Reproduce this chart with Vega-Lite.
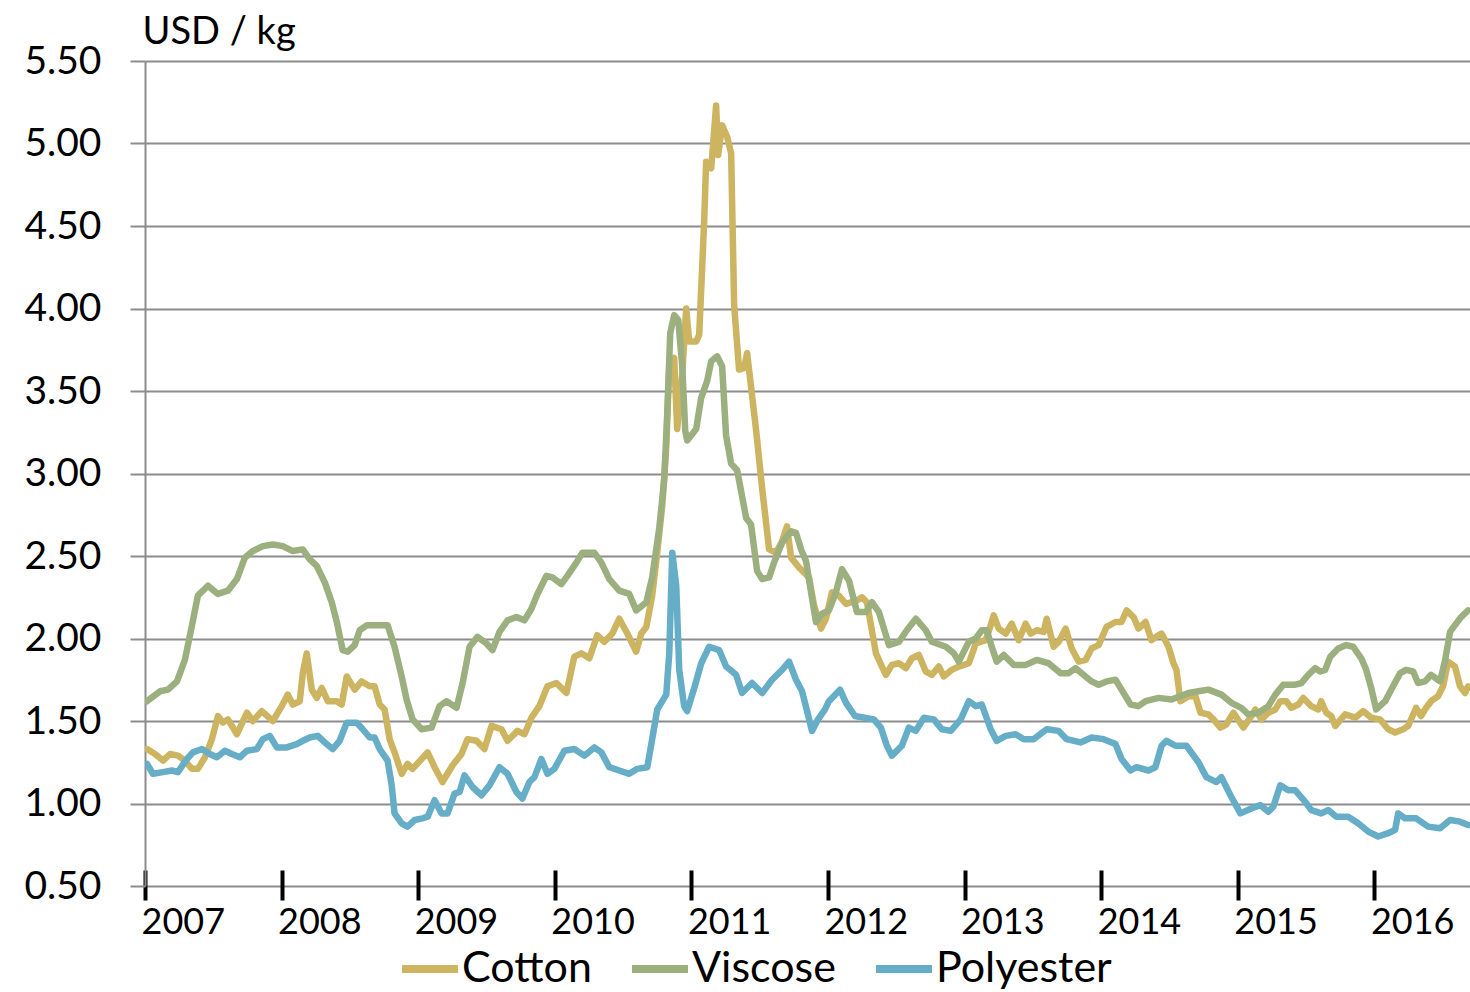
{
"$schema": "https://vega.github.io/schema/vega-lite/v6.json",
"width": 1325, "height": 825,
"autosize": "none",
"padding": {"left": 145, "top": 61, "right": 0, "bottom": 106},
"background": "white",
"config": {"font": "Lato", "view": {"stroke": null}},
"datasets": {"prices": [
{"fibre":"Cotton","year":2007.015,"price":1.33},{"fibre":"Cotton","year":2007.073,"price":1.30},{"fibre":"Cotton","year":2007.132,"price":1.26},{"fibre":"Cotton","year":2007.183,"price":1.30},{"fibre":"Cotton","year":2007.241,"price":1.29},{"fibre":"Cotton","year":2007.292,"price":1.26},{"fibre":"Cotton","year":2007.344,"price":1.21},{"fibre":"Cotton","year":2007.387,"price":1.21},{"fibre":"Cotton","year":2007.439,"price":1.28},{"fibre":"Cotton","year":2007.490,"price":1.39},{"fibre":"Cotton","year":2007.534,"price":1.53},{"fibre":"Cotton","year":2007.570,"price":1.49},{"fibre":"Cotton","year":2007.607,"price":1.51},{"fibre":"Cotton","year":2007.673,"price":1.42},{"fibre":"Cotton","year":2007.746,"price":1.55},{"fibre":"Cotton","year":2007.789,"price":1.50},{"fibre":"Cotton","year":2007.855,"price":1.56},{"fibre":"Cotton","year":2007.936,"price":1.50},{"fibre":"Cotton","year":2008.001,"price":1.59},{"fibre":"Cotton","year":2008.045,"price":1.66},{"fibre":"Cotton","year":2008.082,"price":1.60},{"fibre":"Cotton","year":2008.133,"price":1.62},{"fibre":"Cotton","year":2008.155,"price":1.79},{"fibre":"Cotton","year":2008.184,"price":1.91},{"fibre":"Cotton","year":2008.221,"price":1.69},{"fibre":"Cotton","year":2008.257,"price":1.64},{"fibre":"Cotton","year":2008.294,"price":1.70},{"fibre":"Cotton","year":2008.338,"price":1.62},{"fibre":"Cotton","year":2008.404,"price":1.62},{"fibre":"Cotton","year":2008.440,"price":1.60},{"fibre":"Cotton","year":2008.477,"price":1.77},{"fibre":"Cotton","year":2008.535,"price":1.69},{"fibre":"Cotton","year":2008.586,"price":1.74},{"fibre":"Cotton","year":2008.645,"price":1.71},{"fibre":"Cotton","year":2008.681,"price":1.71},{"fibre":"Cotton","year":2008.718,"price":1.60},{"fibre":"Cotton","year":2008.754,"price":1.57},{"fibre":"Cotton","year":2008.791,"price":1.39},{"fibre":"Cotton","year":2008.827,"price":1.31},{"fibre":"Cotton","year":2008.879,"price":1.18},{"fibre":"Cotton","year":2008.922,"price":1.24},{"fibre":"Cotton","year":2008.959,"price":1.21},{"fibre":"Cotton","year":2009.025,"price":1.27},{"fibre":"Cotton","year":2009.069,"price":1.31},{"fibre":"Cotton","year":2009.120,"price":1.22},{"fibre":"Cotton","year":2009.178,"price":1.13},{"fibre":"Cotton","year":2009.251,"price":1.23},{"fibre":"Cotton","year":2009.317,"price":1.30},{"fibre":"Cotton","year":2009.361,"price":1.39},{"fibre":"Cotton","year":2009.427,"price":1.38},{"fibre":"Cotton","year":2009.485,"price":1.33},{"fibre":"Cotton","year":2009.537,"price":1.47},{"fibre":"Cotton","year":2009.610,"price":1.45},{"fibre":"Cotton","year":2009.654,"price":1.38},{"fibre":"Cotton","year":2009.727,"price":1.44},{"fibre":"Cotton","year":2009.778,"price":1.42},{"fibre":"Cotton","year":2009.829,"price":1.52},{"fibre":"Cotton","year":2009.887,"price":1.59},{"fibre":"Cotton","year":2009.946,"price":1.71},{"fibre":"Cotton","year":2010.012,"price":1.73},{"fibre":"Cotton","year":2010.085,"price":1.67},{"fibre":"Cotton","year":2010.143,"price":1.89},{"fibre":"Cotton","year":2010.194,"price":1.91},{"fibre":"Cotton","year":2010.253,"price":1.88},{"fibre":"Cotton","year":2010.311,"price":2.02},{"fibre":"Cotton","year":2010.363,"price":1.98},{"fibre":"Cotton","year":2010.421,"price":2.03},{"fibre":"Cotton","year":2010.472,"price":2.12},{"fibre":"Cotton","year":2010.531,"price":2.03},{"fibre":"Cotton","year":2010.596,"price":1.92},{"fibre":"Cotton","year":2010.633,"price":2.03},{"fibre":"Cotton","year":2010.670,"price":2.07},{"fibre":"Cotton","year":2010.713,"price":2.26},{"fibre":"Cotton","year":2010.750,"price":2.52},{"fibre":"Cotton","year":2010.787,"price":2.81},{"fibre":"Cotton","year":2010.816,"price":3.16},{"fibre":"Cotton","year":2010.838,"price":3.65},{"fibre":"Cotton","year":2010.874,"price":3.70},{"fibre":"Cotton","year":2010.896,"price":3.27},{"fibre":"Cotton","year":2010.933,"price":3.60},{"fibre":"Cotton","year":2010.962,"price":4.00},{"fibre":"Cotton","year":2010.984,"price":3.80},{"fibre":"Cotton","year":2011.035,"price":3.80},{"fibre":"Cotton","year":2011.057,"price":3.84},{"fibre":"Cotton","year":2011.079,"price":4.25},{"fibre":"Cotton","year":2011.094,"price":4.54},{"fibre":"Cotton","year":2011.108,"price":4.89},{"fibre":"Cotton","year":2011.145,"price":4.85},{"fibre":"Cotton","year":2011.181,"price":5.23},{"fibre":"Cotton","year":2011.196,"price":4.93},{"fibre":"Cotton","year":2011.225,"price":5.11},{"fibre":"Cotton","year":2011.262,"price":5.04},{"fibre":"Cotton","year":2011.291,"price":4.94},{"fibre":"Cotton","year":2011.313,"price":4.02},{"fibre":"Cotton","year":2011.349,"price":3.63},{"fibre":"Cotton","year":2011.386,"price":3.64},{"fibre":"Cotton","year":2011.408,"price":3.73},{"fibre":"Cotton","year":2011.474,"price":3.26},{"fibre":"Cotton","year":2011.518,"price":2.91},{"fibre":"Cotton","year":2011.569,"price":2.54},{"fibre":"Cotton","year":2011.620,"price":2.52},{"fibre":"Cotton","year":2011.664,"price":2.59},{"fibre":"Cotton","year":2011.700,"price":2.68},{"fibre":"Cotton","year":2011.730,"price":2.49},{"fibre":"Cotton","year":2011.788,"price":2.43},{"fibre":"Cotton","year":2011.861,"price":2.37},{"fibre":"Cotton","year":2011.898,"price":2.20},{"fibre":"Cotton","year":2011.949,"price":2.06},{"fibre":"Cotton","year":2011.985,"price":2.12},{"fibre":"Cotton","year":2012.029,"price":2.28},{"fibre":"Cotton","year":2012.080,"price":2.26},{"fibre":"Cotton","year":2012.132,"price":2.21},{"fibre":"Cotton","year":2012.212,"price":2.23},{"fibre":"Cotton","year":2012.249,"price":2.25},{"fibre":"Cotton","year":2012.285,"price":2.22},{"fibre":"Cotton","year":2012.351,"price":1.91},{"fibre":"Cotton","year":2012.395,"price":1.83},{"fibre":"Cotton","year":2012.424,"price":1.78},{"fibre":"Cotton","year":2012.468,"price":1.84},{"fibre":"Cotton","year":2012.519,"price":1.85},{"fibre":"Cotton","year":2012.570,"price":1.82},{"fibre":"Cotton","year":2012.614,"price":1.88},{"fibre":"Cotton","year":2012.665,"price":1.90},{"fibre":"Cotton","year":2012.716,"price":1.80},{"fibre":"Cotton","year":2012.760,"price":1.78},{"fibre":"Cotton","year":2012.811,"price":1.83},{"fibre":"Cotton","year":2012.848,"price":1.77},{"fibre":"Cotton","year":2012.906,"price":1.81},{"fibre":"Cotton","year":2012.958,"price":1.83},{"fibre":"Cotton","year":2013.031,"price":1.85},{"fibre":"Cotton","year":2013.082,"price":1.97},{"fibre":"Cotton","year":2013.155,"price":1.99},{"fibre":"Cotton","year":2013.191,"price":2.08},{"fibre":"Cotton","year":2013.213,"price":2.14},{"fibre":"Cotton","year":2013.250,"price":2.06},{"fibre":"Cotton","year":2013.301,"price":2.03},{"fibre":"Cotton","year":2013.345,"price":2.09},{"fibre":"Cotton","year":2013.396,"price":1.99},{"fibre":"Cotton","year":2013.447,"price":2.09},{"fibre":"Cotton","year":2013.484,"price":2.03},{"fibre":"Cotton","year":2013.528,"price":2.05},{"fibre":"Cotton","year":2013.579,"price":2.04},{"fibre":"Cotton","year":2013.601,"price":2.12},{"fibre":"Cotton","year":2013.652,"price":1.95},{"fibre":"Cotton","year":2013.689,"price":1.98},{"fibre":"Cotton","year":2013.740,"price":2.06},{"fibre":"Cotton","year":2013.784,"price":1.94},{"fibre":"Cotton","year":2013.835,"price":1.86},{"fibre":"Cotton","year":2013.886,"price":1.87},{"fibre":"Cotton","year":2013.930,"price":1.94},{"fibre":"Cotton","year":2013.981,"price":1.96},{"fibre":"Cotton","year":2014.039,"price":2.07},{"fibre":"Cotton","year":2014.105,"price":2.10},{"fibre":"Cotton","year":2014.149,"price":2.10},{"fibre":"Cotton","year":2014.186,"price":2.17},{"fibre":"Cotton","year":2014.237,"price":2.13},{"fibre":"Cotton","year":2014.273,"price":2.06},{"fibre":"Cotton","year":2014.325,"price":2.10},{"fibre":"Cotton","year":2014.368,"price":1.99},{"fibre":"Cotton","year":2014.420,"price":2.02},{"fibre":"Cotton","year":2014.442,"price":2.03},{"fibre":"Cotton","year":2014.493,"price":1.95},{"fibre":"Cotton","year":2014.529,"price":1.85},{"fibre":"Cotton","year":2014.551,"price":1.81},{"fibre":"Cotton","year":2014.580,"price":1.62},{"fibre":"Cotton","year":2014.639,"price":1.65},{"fibre":"Cotton","year":2014.690,"price":1.65},{"fibre":"Cotton","year":2014.727,"price":1.55},{"fibre":"Cotton","year":2014.785,"price":1.54},{"fibre":"Cotton","year":2014.822,"price":1.51},{"fibre":"Cotton","year":2014.873,"price":1.46},{"fibre":"Cotton","year":2014.917,"price":1.48},{"fibre":"Cotton","year":2014.968,"price":1.55},{"fibre":"Cotton","year":2015.041,"price":1.46},{"fibre":"Cotton","year":2015.092,"price":1.52},{"fibre":"Cotton","year":2015.129,"price":1.57},{"fibre":"Cotton","year":2015.173,"price":1.51},{"fibre":"Cotton","year":2015.224,"price":1.55},{"fibre":"Cotton","year":2015.275,"price":1.57},{"fibre":"Cotton","year":2015.311,"price":1.62},{"fibre":"Cotton","year":2015.355,"price":1.62},{"fibre":"Cotton","year":2015.392,"price":1.58},{"fibre":"Cotton","year":2015.443,"price":1.60},{"fibre":"Cotton","year":2015.479,"price":1.64},{"fibre":"Cotton","year":2015.538,"price":1.59},{"fibre":"Cotton","year":2015.589,"price":1.57},{"fibre":"Cotton","year":2015.611,"price":1.62},{"fibre":"Cotton","year":2015.648,"price":1.55},{"fibre":"Cotton","year":2015.684,"price":1.53},{"fibre":"Cotton","year":2015.714,"price":1.47},{"fibre":"Cotton","year":2015.786,"price":1.54},{"fibre":"Cotton","year":2015.860,"price":1.52},{"fibre":"Cotton","year":2015.918,"price":1.56},{"fibre":"Cotton","year":2015.977,"price":1.52},{"fibre":"Cotton","year":2016.042,"price":1.51},{"fibre":"Cotton","year":2016.101,"price":1.45},{"fibre":"Cotton","year":2016.152,"price":1.43},{"fibre":"Cotton","year":2016.210,"price":1.45},{"fibre":"Cotton","year":2016.247,"price":1.47},{"fibre":"Cotton","year":2016.306,"price":1.58},{"fibre":"Cotton","year":2016.342,"price":1.53},{"fibre":"Cotton","year":2016.379,"price":1.58},{"fibre":"Cotton","year":2016.415,"price":1.62},{"fibre":"Cotton","year":2016.466,"price":1.65},{"fibre":"Cotton","year":2016.503,"price":1.71},{"fibre":"Cotton","year":2016.539,"price":1.86},{"fibre":"Cotton","year":2016.590,"price":1.83},{"fibre":"Cotton","year":2016.627,"price":1.71},{"fibre":"Cotton","year":2016.664,"price":1.67},{"fibre":"Cotton","year":2016.686,"price":1.71},
{"fibre":"Viscose","year":2007.015,"price":1.62},{"fibre":"Viscose","year":2007.110,"price":1.68},{"fibre":"Viscose","year":2007.168,"price":1.69},{"fibre":"Viscose","year":2007.234,"price":1.74},{"fibre":"Viscose","year":2007.292,"price":1.87},{"fibre":"Viscose","year":2007.344,"price":2.08},{"fibre":"Viscose","year":2007.387,"price":2.26},{"fibre":"Viscose","year":2007.461,"price":2.32},{"fibre":"Viscose","year":2007.534,"price":2.27},{"fibre":"Viscose","year":2007.607,"price":2.29},{"fibre":"Viscose","year":2007.673,"price":2.36},{"fibre":"Viscose","year":2007.731,"price":2.49},{"fibre":"Viscose","year":2007.789,"price":2.53},{"fibre":"Viscose","year":2007.863,"price":2.56},{"fibre":"Viscose","year":2007.936,"price":2.57},{"fibre":"Viscose","year":2008.009,"price":2.56},{"fibre":"Viscose","year":2008.082,"price":2.53},{"fibre":"Viscose","year":2008.155,"price":2.54},{"fibre":"Viscose","year":2008.206,"price":2.48},{"fibre":"Viscose","year":2008.257,"price":2.44},{"fibre":"Viscose","year":2008.316,"price":2.34},{"fibre":"Viscose","year":2008.367,"price":2.22},{"fibre":"Viscose","year":2008.404,"price":2.10},{"fibre":"Viscose","year":2008.447,"price":1.93},{"fibre":"Viscose","year":2008.484,"price":1.92},{"fibre":"Viscose","year":2008.535,"price":1.96},{"fibre":"Viscose","year":2008.572,"price":2.05},{"fibre":"Viscose","year":2008.623,"price":2.08},{"fibre":"Viscose","year":2008.696,"price":2.08},{"fibre":"Viscose","year":2008.776,"price":2.08},{"fibre":"Viscose","year":2008.827,"price":1.95},{"fibre":"Viscose","year":2008.879,"price":1.77},{"fibre":"Viscose","year":2008.915,"price":1.63},{"fibre":"Viscose","year":2008.959,"price":1.51},{"fibre":"Viscose","year":2009.025,"price":1.45},{"fibre":"Viscose","year":2009.098,"price":1.46},{"fibre":"Viscose","year":2009.156,"price":1.59},{"fibre":"Viscose","year":2009.208,"price":1.62},{"fibre":"Viscose","year":2009.281,"price":1.58},{"fibre":"Viscose","year":2009.325,"price":1.73},{"fibre":"Viscose","year":2009.376,"price":1.95},{"fibre":"Viscose","year":2009.434,"price":2.01},{"fibre":"Viscose","year":2009.500,"price":1.97},{"fibre":"Viscose","year":2009.544,"price":1.93},{"fibre":"Viscose","year":2009.595,"price":2.04},{"fibre":"Viscose","year":2009.654,"price":2.11},{"fibre":"Viscose","year":2009.719,"price":2.13},{"fibre":"Viscose","year":2009.778,"price":2.11},{"fibre":"Viscose","year":2009.829,"price":2.18},{"fibre":"Viscose","year":2009.873,"price":2.27},{"fibre":"Viscose","year":2009.939,"price":2.38},{"fibre":"Viscose","year":2009.982,"price":2.37},{"fibre":"Viscose","year":2010.048,"price":2.33},{"fibre":"Viscose","year":2010.092,"price":2.38},{"fibre":"Viscose","year":2010.158,"price":2.46},{"fibre":"Viscose","year":2010.202,"price":2.52},{"fibre":"Viscose","year":2010.289,"price":2.52},{"fibre":"Viscose","year":2010.341,"price":2.46},{"fibre":"Viscose","year":2010.399,"price":2.36},{"fibre":"Viscose","year":2010.472,"price":2.29},{"fibre":"Viscose","year":2010.545,"price":2.27},{"fibre":"Viscose","year":2010.596,"price":2.17},{"fibre":"Viscose","year":2010.670,"price":2.22},{"fibre":"Viscose","year":2010.713,"price":2.37},{"fibre":"Viscose","year":2010.765,"price":2.67},{"fibre":"Viscose","year":2010.801,"price":2.96},{"fibre":"Viscose","year":2010.823,"price":3.36},{"fibre":"Viscose","year":2010.845,"price":3.85},{"fibre":"Viscose","year":2010.874,"price":3.96},{"fibre":"Viscose","year":2010.904,"price":3.93},{"fibre":"Viscose","year":2010.933,"price":3.65},{"fibre":"Viscose","year":2010.955,"price":3.26},{"fibre":"Viscose","year":2010.969,"price":3.20},{"fibre":"Viscose","year":2011.035,"price":3.27},{"fibre":"Viscose","year":2011.072,"price":3.46},{"fibre":"Viscose","year":2011.115,"price":3.56},{"fibre":"Viscose","year":2011.145,"price":3.68},{"fibre":"Viscose","year":2011.189,"price":3.71},{"fibre":"Viscose","year":2011.225,"price":3.65},{"fibre":"Viscose","year":2011.254,"price":3.23},{"fibre":"Viscose","year":2011.291,"price":3.06},{"fibre":"Viscose","year":2011.335,"price":3.02},{"fibre":"Viscose","year":2011.401,"price":2.73},{"fibre":"Viscose","year":2011.437,"price":2.69},{"fibre":"Viscose","year":2011.481,"price":2.41},{"fibre":"Viscose","year":2011.518,"price":2.36},{"fibre":"Viscose","year":2011.569,"price":2.37},{"fibre":"Viscose","year":2011.605,"price":2.46},{"fibre":"Viscose","year":2011.664,"price":2.58},{"fibre":"Viscose","year":2011.730,"price":2.65},{"fibre":"Viscose","year":2011.766,"price":2.64},{"fibre":"Viscose","year":2011.803,"price":2.54},{"fibre":"Viscose","year":2011.839,"price":2.47},{"fibre":"Viscose","year":2011.876,"price":2.28},{"fibre":"Viscose","year":2011.912,"price":2.10},{"fibre":"Viscose","year":2011.956,"price":2.15},{"fibre":"Viscose","year":2012.007,"price":2.17},{"fibre":"Viscose","year":2012.058,"price":2.28},{"fibre":"Viscose","year":2012.102,"price":2.42},{"fibre":"Viscose","year":2012.154,"price":2.35},{"fibre":"Viscose","year":2012.212,"price":2.16},{"fibre":"Viscose","year":2012.278,"price":2.16},{"fibre":"Viscose","year":2012.322,"price":2.22},{"fibre":"Viscose","year":2012.373,"price":2.16},{"fibre":"Viscose","year":2012.446,"price":1.96},{"fibre":"Viscose","year":2012.519,"price":1.98},{"fibre":"Viscose","year":2012.577,"price":2.05},{"fibre":"Viscose","year":2012.643,"price":2.12},{"fibre":"Viscose","year":2012.716,"price":2.05},{"fibre":"Viscose","year":2012.760,"price":1.98},{"fibre":"Viscose","year":2012.863,"price":1.95},{"fibre":"Viscose","year":2012.921,"price":1.91},{"fibre":"Viscose","year":2012.958,"price":1.86},{"fibre":"Viscose","year":2013.031,"price":1.98},{"fibre":"Viscose","year":2013.082,"price":2.00},{"fibre":"Viscose","year":2013.126,"price":2.05},{"fibre":"Viscose","year":2013.162,"price":2.05},{"fibre":"Viscose","year":2013.199,"price":1.95},{"fibre":"Viscose","year":2013.235,"price":1.86},{"fibre":"Viscose","year":2013.287,"price":1.90},{"fibre":"Viscose","year":2013.360,"price":1.84},{"fibre":"Viscose","year":2013.447,"price":1.84},{"fibre":"Viscose","year":2013.528,"price":1.87},{"fibre":"Viscose","year":2013.615,"price":1.85},{"fibre":"Viscose","year":2013.703,"price":1.79},{"fibre":"Viscose","year":2013.762,"price":1.79},{"fibre":"Viscose","year":2013.813,"price":1.82},{"fibre":"Viscose","year":2013.857,"price":1.79},{"fibre":"Viscose","year":2013.930,"price":1.74},{"fibre":"Viscose","year":2013.981,"price":1.72},{"fibre":"Viscose","year":2014.039,"price":1.74},{"fibre":"Viscose","year":2014.105,"price":1.75},{"fibre":"Viscose","year":2014.149,"price":1.69},{"fibre":"Viscose","year":2014.215,"price":1.60},{"fibre":"Viscose","year":2014.273,"price":1.59},{"fibre":"Viscose","year":2014.325,"price":1.62},{"fibre":"Viscose","year":2014.420,"price":1.64},{"fibre":"Viscose","year":2014.515,"price":1.63},{"fibre":"Viscose","year":2014.639,"price":1.67},{"fibre":"Viscose","year":2014.712,"price":1.68},{"fibre":"Viscose","year":2014.785,"price":1.69},{"fibre":"Viscose","year":2014.880,"price":1.66},{"fibre":"Viscose","year":2014.953,"price":1.61},{"fibre":"Viscose","year":2015.026,"price":1.58},{"fibre":"Viscose","year":2015.077,"price":1.54},{"fibre":"Viscose","year":2015.151,"price":1.55},{"fibre":"Viscose","year":2015.224,"price":1.59},{"fibre":"Viscose","year":2015.275,"price":1.66},{"fibre":"Viscose","year":2015.333,"price":1.72},{"fibre":"Viscose","year":2015.421,"price":1.72},{"fibre":"Viscose","year":2015.465,"price":1.73},{"fibre":"Viscose","year":2015.516,"price":1.78},{"fibre":"Viscose","year":2015.567,"price":1.82},{"fibre":"Viscose","year":2015.604,"price":1.80},{"fibre":"Viscose","year":2015.640,"price":1.81},{"fibre":"Viscose","year":2015.677,"price":1.89},{"fibre":"Viscose","year":2015.735,"price":1.94},{"fibre":"Viscose","year":2015.794,"price":1.96},{"fibre":"Viscose","year":2015.845,"price":1.95},{"fibre":"Viscose","year":2015.904,"price":1.88},{"fibre":"Viscose","year":2015.940,"price":1.81},{"fibre":"Viscose","year":2015.977,"price":1.70},{"fibre":"Viscose","year":2016.013,"price":1.57},{"fibre":"Viscose","year":2016.079,"price":1.62},{"fibre":"Viscose","year":2016.123,"price":1.69},{"fibre":"Viscose","year":2016.189,"price":1.79},{"fibre":"Viscose","year":2016.232,"price":1.81},{"fibre":"Viscose","year":2016.284,"price":1.80},{"fibre":"Viscose","year":2016.320,"price":1.73},{"fibre":"Viscose","year":2016.371,"price":1.74},{"fibre":"Viscose","year":2016.415,"price":1.78},{"fibre":"Viscose","year":2016.481,"price":1.74},{"fibre":"Viscose","year":2016.518,"price":1.87},{"fibre":"Viscose","year":2016.554,"price":2.04},{"fibre":"Viscose","year":2016.598,"price":2.09},{"fibre":"Viscose","year":2016.635,"price":2.13},{"fibre":"Viscose","year":2016.686,"price":2.17},
{"fibre":"Polyester","year":2007.015,"price":1.24},{"fibre":"Polyester","year":2007.058,"price":1.18},{"fibre":"Polyester","year":2007.132,"price":1.19},{"fibre":"Polyester","year":2007.197,"price":1.20},{"fibre":"Polyester","year":2007.241,"price":1.19},{"fibre":"Polyester","year":2007.307,"price":1.27},{"fibre":"Polyester","year":2007.351,"price":1.31},{"fibre":"Polyester","year":2007.417,"price":1.33},{"fibre":"Polyester","year":2007.475,"price":1.30},{"fibre":"Polyester","year":2007.526,"price":1.28},{"fibre":"Polyester","year":2007.585,"price":1.32},{"fibre":"Polyester","year":2007.636,"price":1.30},{"fibre":"Polyester","year":2007.694,"price":1.28},{"fibre":"Polyester","year":2007.746,"price":1.32},{"fibre":"Polyester","year":2007.819,"price":1.33},{"fibre":"Polyester","year":2007.863,"price":1.39},{"fibre":"Polyester","year":2007.914,"price":1.41},{"fibre":"Polyester","year":2007.965,"price":1.34},{"fibre":"Polyester","year":2008.038,"price":1.34},{"fibre":"Polyester","year":2008.111,"price":1.36},{"fibre":"Polyester","year":2008.155,"price":1.38},{"fibre":"Polyester","year":2008.206,"price":1.40},{"fibre":"Polyester","year":2008.265,"price":1.41},{"fibre":"Polyester","year":2008.316,"price":1.37},{"fibre":"Polyester","year":2008.374,"price":1.33},{"fibre":"Polyester","year":2008.425,"price":1.38},{"fibre":"Polyester","year":2008.477,"price":1.49},{"fibre":"Polyester","year":2008.550,"price":1.49},{"fibre":"Polyester","year":2008.594,"price":1.45},{"fibre":"Polyester","year":2008.645,"price":1.40},{"fibre":"Polyester","year":2008.681,"price":1.40},{"fibre":"Polyester","year":2008.718,"price":1.33},{"fibre":"Polyester","year":2008.776,"price":1.26},{"fibre":"Polyester","year":2008.806,"price":1.11},{"fibre":"Polyester","year":2008.827,"price":0.94},{"fibre":"Polyester","year":2008.879,"price":0.88},{"fibre":"Polyester","year":2008.922,"price":0.86},{"fibre":"Polyester","year":2008.974,"price":0.90},{"fibre":"Polyester","year":2009.032,"price":0.91},{"fibre":"Polyester","year":2009.069,"price":0.92},{"fibre":"Polyester","year":2009.120,"price":1.02},{"fibre":"Polyester","year":2009.171,"price":0.94},{"fibre":"Polyester","year":2009.215,"price":0.94},{"fibre":"Polyester","year":2009.266,"price":1.06},{"fibre":"Polyester","year":2009.303,"price":1.07},{"fibre":"Polyester","year":2009.339,"price":1.17},{"fibre":"Polyester","year":2009.398,"price":1.10},{"fibre":"Polyester","year":2009.463,"price":1.05},{"fibre":"Polyester","year":2009.522,"price":1.11},{"fibre":"Polyester","year":2009.595,"price":1.22},{"fibre":"Polyester","year":2009.654,"price":1.18},{"fibre":"Polyester","year":2009.719,"price":1.07},{"fibre":"Polyester","year":2009.763,"price":1.03},{"fibre":"Polyester","year":2009.814,"price":1.13},{"fibre":"Polyester","year":2009.851,"price":1.16},{"fibre":"Polyester","year":2009.902,"price":1.27},{"fibre":"Polyester","year":2009.946,"price":1.18},{"fibre":"Polyester","year":2009.997,"price":1.21},{"fibre":"Polyester","year":2010.070,"price":1.32},{"fibre":"Polyester","year":2010.143,"price":1.33},{"fibre":"Polyester","year":2010.216,"price":1.29},{"fibre":"Polyester","year":2010.289,"price":1.34},{"fibre":"Polyester","year":2010.341,"price":1.31},{"fibre":"Polyester","year":2010.399,"price":1.22},{"fibre":"Polyester","year":2010.472,"price":1.20},{"fibre":"Polyester","year":2010.545,"price":1.18},{"fibre":"Polyester","year":2010.604,"price":1.21},{"fibre":"Polyester","year":2010.677,"price":1.22},{"fibre":"Polyester","year":2010.713,"price":1.39},{"fibre":"Polyester","year":2010.750,"price":1.57},{"fibre":"Polyester","year":2010.816,"price":1.66},{"fibre":"Polyester","year":2010.838,"price":1.91},{"fibre":"Polyester","year":2010.860,"price":2.52},{"fibre":"Polyester","year":2010.889,"price":2.32},{"fibre":"Polyester","year":2010.911,"price":1.81},{"fibre":"Polyester","year":2010.947,"price":1.59},{"fibre":"Polyester","year":2010.969,"price":1.56},{"fibre":"Polyester","year":2011.021,"price":1.70},{"fibre":"Polyester","year":2011.072,"price":1.85},{"fibre":"Polyester","year":2011.130,"price":1.95},{"fibre":"Polyester","year":2011.203,"price":1.93},{"fibre":"Polyester","year":2011.254,"price":1.83},{"fibre":"Polyester","year":2011.327,"price":1.78},{"fibre":"Polyester","year":2011.371,"price":1.67},{"fibre":"Polyester","year":2011.444,"price":1.73},{"fibre":"Polyester","year":2011.518,"price":1.67},{"fibre":"Polyester","year":2011.591,"price":1.75},{"fibre":"Polyester","year":2011.664,"price":1.81},{"fibre":"Polyester","year":2011.715,"price":1.86},{"fibre":"Polyester","year":2011.766,"price":1.75},{"fibre":"Polyester","year":2011.810,"price":1.68},{"fibre":"Polyester","year":2011.847,"price":1.56},{"fibre":"Polyester","year":2011.883,"price":1.44},{"fibre":"Polyester","year":2011.927,"price":1.51},{"fibre":"Polyester","year":2011.978,"price":1.57},{"fibre":"Polyester","year":2012.007,"price":1.62},{"fibre":"Polyester","year":2012.088,"price":1.69},{"fibre":"Polyester","year":2012.132,"price":1.61},{"fibre":"Polyester","year":2012.197,"price":1.53},{"fibre":"Polyester","year":2012.336,"price":1.51},{"fibre":"Polyester","year":2012.387,"price":1.46},{"fibre":"Polyester","year":2012.431,"price":1.35},{"fibre":"Polyester","year":2012.468,"price":1.29},{"fibre":"Polyester","year":2012.541,"price":1.35},{"fibre":"Polyester","year":2012.592,"price":1.46},{"fibre":"Polyester","year":2012.643,"price":1.44},{"fibre":"Polyester","year":2012.702,"price":1.52},{"fibre":"Polyester","year":2012.775,"price":1.51},{"fibre":"Polyester","year":2012.833,"price":1.45},{"fibre":"Polyester","year":2012.899,"price":1.44},{"fibre":"Polyester","year":2012.972,"price":1.51},{"fibre":"Polyester","year":2013.031,"price":1.62},{"fibre":"Polyester","year":2013.082,"price":1.59},{"fibre":"Polyester","year":2013.126,"price":1.60},{"fibre":"Polyester","year":2013.191,"price":1.45},{"fibre":"Polyester","year":2013.235,"price":1.38},{"fibre":"Polyester","year":2013.301,"price":1.41},{"fibre":"Polyester","year":2013.374,"price":1.42},{"fibre":"Polyester","year":2013.433,"price":1.39},{"fibre":"Polyester","year":2013.506,"price":1.39},{"fibre":"Polyester","year":2013.601,"price":1.45},{"fibre":"Polyester","year":2013.689,"price":1.44},{"fibre":"Polyester","year":2013.747,"price":1.39},{"fibre":"Polyester","year":2013.849,"price":1.37},{"fibre":"Polyester","year":2013.930,"price":1.40},{"fibre":"Polyester","year":2014.018,"price":1.39},{"fibre":"Polyester","year":2014.105,"price":1.36},{"fibre":"Polyester","year":2014.149,"price":1.27},{"fibre":"Polyester","year":2014.215,"price":1.20},{"fibre":"Polyester","year":2014.259,"price":1.22},{"fibre":"Polyester","year":2014.346,"price":1.20},{"fibre":"Polyester","year":2014.397,"price":1.22},{"fibre":"Polyester","year":2014.442,"price":1.35},{"fibre":"Polyester","year":2014.478,"price":1.38},{"fibre":"Polyester","year":2014.544,"price":1.35},{"fibre":"Polyester","year":2014.624,"price":1.35},{"fibre":"Polyester","year":2014.712,"price":1.25},{"fibre":"Polyester","year":2014.770,"price":1.16},{"fibre":"Polyester","year":2014.844,"price":1.13},{"fibre":"Polyester","year":2014.880,"price":1.16},{"fibre":"Polyester","year":2014.946,"price":1.05},{"fibre":"Polyester","year":2015.019,"price":0.94},{"fibre":"Polyester","year":2015.099,"price":0.97},{"fibre":"Polyester","year":2015.165,"price":0.99},{"fibre":"Polyester","year":2015.224,"price":0.95},{"fibre":"Polyester","year":2015.260,"price":0.98},{"fibre":"Polyester","year":2015.311,"price":1.11},{"fibre":"Polyester","year":2015.370,"price":1.08},{"fibre":"Polyester","year":2015.421,"price":1.08},{"fibre":"Polyester","year":2015.494,"price":1.01},{"fibre":"Polyester","year":2015.538,"price":0.96},{"fibre":"Polyester","year":2015.611,"price":0.94},{"fibre":"Polyester","year":2015.662,"price":0.96},{"fibre":"Polyester","year":2015.721,"price":0.92},{"fibre":"Polyester","year":2015.808,"price":0.92},{"fibre":"Polyester","year":2015.881,"price":0.88},{"fibre":"Polyester","year":2015.955,"price":0.83},{"fibre":"Polyester","year":2016.028,"price":0.80},{"fibre":"Polyester","year":2016.101,"price":0.82},{"fibre":"Polyester","year":2016.152,"price":0.84},{"fibre":"Polyester","year":2016.174,"price":0.94},{"fibre":"Polyester","year":2016.225,"price":0.91},{"fibre":"Polyester","year":2016.306,"price":0.91},{"fibre":"Polyester","year":2016.393,"price":0.86},{"fibre":"Polyester","year":2016.481,"price":0.85},{"fibre":"Polyester","year":2016.554,"price":0.90},{"fibre":"Polyester","year":2016.627,"price":0.89},{"fibre":"Polyester","year":2016.686,"price":0.87}
]},
"data": {"name": "prices"},
"mark": {"type": "line", "strokeWidth": 6.5, "strokeJoin": "round", "strokeCap": "round", "clip": true},
"encoding": {
  "x": {"field": "year", "type": "quantitative",
    "scale": {"domain": [2007, 2016.7], "nice": false, "zero": false},
    "axis": {"values": [2007,2008,2009,2010,2011,2012,2013,2014,2015,2016], "format": "d", "title": null, "grid": false, "domain": false, "offset": -16, "tickSize": 30, "tickWidth": 4, "tickColor": "black", "labelAlign": "left", "labelOffset": -4, "labelPadding": 5, "labelFontSize": 36, "labelColor": "black", "labelFlush": false, "labelOverlap": false, "labelBound": false}},
  "y": {"field": "price", "type": "quantitative",
    "scale": {"domain": [0.5, 5.5], "nice": false, "zero": false},
    "axis": {"values": [0.5,1,1.5,2,2.5,3,3.5,4,4.5,5,5.5], "format": ".2f", "title": "USD / kg", "titleAngle": 0, "titleAlign": "left", "titleBaseline": "alphabetic", "titleX": -3, "titleY": -18, "titleFontSize": 38, "titleFontWeight": "normal", "titleColor": "black", "grid": true, "gridColor": "#8c8c8c", "gridWidth": 2, "domainColor": "#8c8c8c", "domainWidth": 2, "tickColor": "#8c8c8c", "tickWidth": 2, "tickSize": 15, "labelPadding": 29, "labelFontSize": 39, "labelColor": "black"}},
  "color": {"field": "fibre", "type": "nominal",
    "scale": {"domain": ["Cotton", "Viscose", "Polyester"], "range": ["#CDB460", "#9BAF7F", "#66ADC8"]},
    "legend": {"title": null, "orient": "none", "direction": "horizontal", "legendX": 253, "legendY": 876, "symbolType": "stroke", "symbolSize": 3136, "symbolStrokeWidth": 8, "labelFontSize": 43, "labelColor": "black", "labelOffset": 0, "columnPadding": 24, "padding": 0, "labelLimit": 400}}
}
}
